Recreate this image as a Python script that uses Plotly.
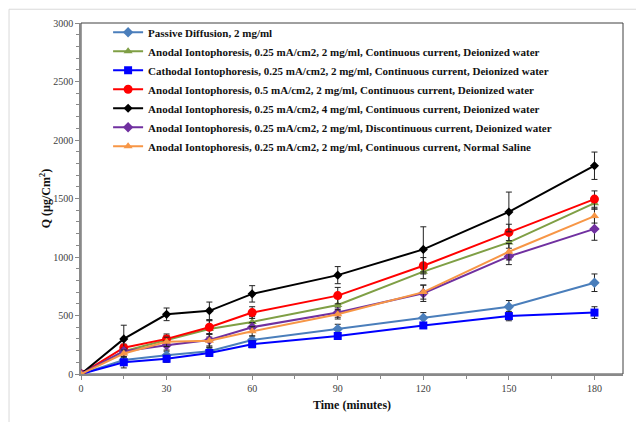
import plotly.graph_objects as go

# Sampling times (minutes)
time_min = [0, 15, 30, 45, 60, 90, 120, 150, 180]

# Cumulative amount permeated, Q (µg/cm²), with standard deviations
passive = [0, 120, 160, 195, 290, 385, 480, 575, 780]
passive_sd = [0, 25, 35, 35, 35, 40, 45, 53, 75]

anodal_025 = [0, 195, 290, 385, 445, 590, 875, 1125, 1460]
anodal_025_sd = [0, 30, 40, 70, 45, 60, 60, 90, 50]

cathodal_025 = [0, 100, 130, 180, 255, 325, 415, 495, 525]
cathodal_025_sd = [0, 48, 30, 30, 30, 30, 25, 40, 50]

anodal_05 = [0, 225, 300, 400, 525, 670, 925, 1210, 1495]
anodal_05_sd = [0, 30, 42, 60, 50, 70, 70, 70, 70]

anodal_4mg = [0, 300, 510, 540, 685, 845, 1065, 1385, 1780]
anodal_4mg_sd = [0, 117, 54, 75, 70, 73, 193, 170, 117]

anodal_discont = [0, 195, 245, 290, 400, 525, 690, 1005, 1240]
anodal_discont_sd = [0, 25, 40, 50, 40, 40, 70, 70, 97]

anodal_saline = [0, 175, 275, 285, 365, 510, 700, 1045, 1350]
anodal_saline_sd = [0, 30, 40, 60, 40, 40, 60, 70, 60]

series_names = [
    "Passive Diffusion, 2 mg/ml",
    "Anodal Iontophoresis, 0.25 mA/cm2, 2 mg/ml, Continuous current, Deionized water",
    "Cathodal Iontophoresis, 0.25 mA/cm2, 2 mg/ml, Continuous current, Deionized water",
    "Anodal Iontophoresis, 0.5 mA/cm2, 2 mg/ml, Continuous current, Deionized water",
    "Anodal Iontophoresis, 0.25 mA/cm2, 4 mg/ml, Continuous current, Deionized water",
    "Anodal Iontophoresis, 0.25 mA/cm2, 2 mg/ml, Discontinuous current, Deionized water",
    "Anodal Iontophoresis, 0.25 mA/cm2, 2 mg/ml, Continuous current, Normal Saline",
]

series = [
    (passive, passive_sd, "#4A7EBB", "diamond", 8),
    (anodal_025, anodal_025_sd, "#7F9F45", "triangle-up", 8),
    (cathodal_025, cathodal_025_sd, "#0000FF", "square", 8),
    (anodal_05, anodal_05_sd, "#FF0000", "circle", 9),
    (anodal_4mg, anodal_4mg_sd, "#000000", "diamond", 7),
    (anodal_discont, anodal_discont_sd, "#7030A0", "diamond", 8),
    (anodal_saline, anodal_saline_sd, "#F79646", "triangle-up", 8),
]

fig = go.Figure()
for name, (vals, sd, color, symbol, size) in zip(series_names, series):
    fig.add_trace(go.Scatter(
        x=time_min, y=vals, name=name, mode="lines+markers",
        line=dict(color=color, width=2),
        marker=dict(color=color, symbol=symbol, size=size),
        error_y=dict(type="data", array=sd, visible=True,
                     color="#222222", thickness=1, width=3),
    ))

serif = "Liberation Serif"
axis_grey = "#898989"

fig.update_layout(
    width=636, height=422,
    margin=dict(l=81, r=13, t=23, b=42),
    paper_bgcolor="white", plot_bgcolor="white",
    font=dict(family=serif, size=10, color="#404040"),
    showlegend=True,
    legend=dict(
        x=0.05, y=1.015, xanchor="left", yanchor="top",
        bgcolor="rgba(0,0,0,0)", borderwidth=0,
        font=dict(family=serif, size=11, color="#111111", weight="bold"),
        traceorder="normal",
    ),
    xaxis=dict(
        range=[0, 190], tickvals=[0, 30, 60, 90, 120, 150, 180],
        showgrid=False, zeroline=False,
        showline=True, linecolor=axis_grey, linewidth=1.5,
        ticks="outside", ticklen=4, tickcolor=axis_grey,
        minor=dict(dtick=15, tick0=0, ticks="outside", ticklen=3, tickcolor=axis_grey),
        tickfont=dict(family=serif, size=10, color="#404040"),
        title=dict(text="<b>Time (minutes)</b>", font=dict(family=serif, size=12, color="#111111"), standoff=8),
    ),
    yaxis=dict(
        range=[0, 3000], dtick=500,
        showgrid=False, zeroline=False,
        showline=True, linecolor=axis_grey, linewidth=1.5,
        ticks="outside", ticklen=4, tickcolor=axis_grey,
        minor=dict(dtick=100, ticks="outside", ticklen=3, tickcolor=axis_grey),
        tickfont=dict(family=serif, size=10, color="#404040"),
        title=dict(text="<b>Q (µg/Cm<sup>2</sup>)</b>", font=dict(family=serif, size=12, color="#111111"), standoff=0),
    ),
    shapes=[
        # outer chart frame
        dict(type="rect", xref="paper", yref="paper", x0=-0.1328, y0=-0.3, x1=1.2, y1=1.0392,
             line=dict(color="#D9D9D9", width=1), layer="below"),
        # plot area frame
        dict(type="rect", xref="paper", yref="paper", x0=0, y0=0, x1=1, y1=1,
             line=dict(color="#404040", width=1), layer="below"),
    ],
)

fig.write_html("out.html")
